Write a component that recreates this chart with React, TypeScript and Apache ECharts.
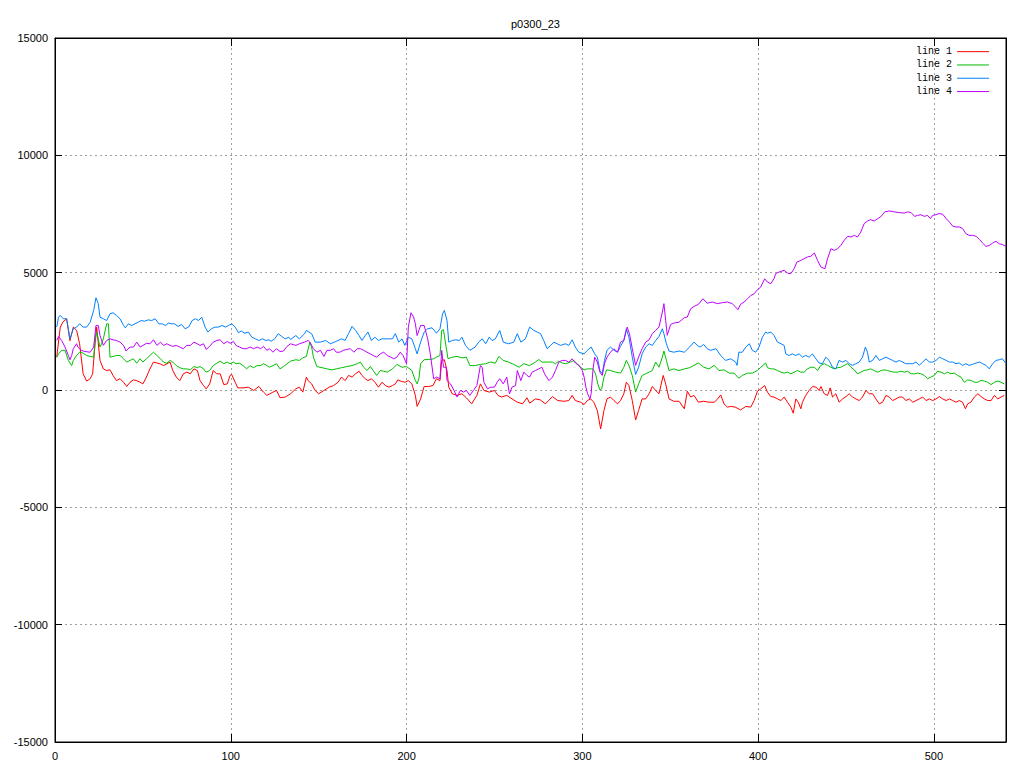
import React, { useEffect, useRef } from "react";
import * as echarts from "echarts";

const chartTitle = "p0300_23";
const seriesNames = ["line 1", "line 2", "line 3", "line 4"];
const seriesColors = ["#ff0000", "#00c000", "#0080ff", "#c000ff"];
const yTicks = [-15000, -10000, -5000, 0, 5000, 10000, 15000];
const xMin = 0;
const xMax = 541;
const xInterval = 100;

const line1Data: number[][] = [
  [1,1400],[3,2680],[4.5,2900],[6.6,3035],[8.5,2100],[10.4,2680],[12.3,2540],[14,1970],[16,690],[18,380],[20,480],[21.4,690],[22.8,1970],[23.7,2680],[25.6,1260],[27.5,900],[29.4,830],[31.3,860],[33,620],[35,400],[37,480],[39,330],[40.8,150],[42.7,330],[44.6,430],[46.5,400],[48.4,330],[50,260],[52,550],[54,900],[56,1190],[58,1150],[60,1110],[61.7,1040],[63.6,1110],[65.5,1190],[67,830],[69,550],[71,400],[73,690],[75,760],[77,690],[79,900],[81,830],[82.5,400],[84.5,190],[86,50],[88,260],[90,830],[92,690],[94,690],[96,230],[98,260],[99.6,620],[100.5,660],[102.5,330],[104,90],[107,90],[110,120],[113,-20],[116,150],[118.6,-90],[120.5,-230],[124,-90],[126,-20],[128,-330],[131,-300],[134,-160],
  [137,50],[139,120],[141,-90],[143,550],[144,400],[146,260],[148,-20],[150,-160],[153,-20],[156,120],[158.5,190],[161,330],[163,550],[165,400],[167,620],[169,550],[171,690],[173,800],[174.6,620],[176.5,480],[178,400],[180,480],[182,330],[184,120],[186,330],[188,190],[190,120],[192,190],[193.6,260],[195,430],[197,370],[199,330],[201,400],[203,260],[205,-230],[206,-700],[208,-380],[210,150],[212.6,150],[215,190],[217,480],[219,400],[220,1260],[221.5,1290],[223,830],[224,120],[226,-160],[228.7,-230],[231.5,-160],[234,-330],[237,-590],[240,-230],[242,260],[244,-20],[247,-90],[250,-20],[252,-230],[254,-300],[257,-230],[260,-380],[263,-520],[266,-590],[268.5,-330],[270,-560],
  [273.3,-380],[276,-420],[279,-590],[283,-280],[286,-450],[289.5,-480],[292.3,-450],[294.2,-230],[296,-450],[299,-520],[301,-620],[302.8,-450],[304.7,-380],[306.5,-520],[308.5,-870],[310.4,-1660],[312.3,-870],[314,-380],[316,-300],[318,-450],[320,-590],[321.7,-450],[323.6,-160],[325,330],[326.5,190],[328.4,-450],[330.3,-1280],[332,-870],[334,-380],[336,-380],[338,-160],[339.8,150],[341.7,-20],[343.6,-160],[346,620],[347.4,260],[349.3,-380],[352,-480],[355,-480],[358,-800],[359.7,-50],[361.6,-300],[363.5,-230],[366,-520],[369,-480],[372,-520],[375,-520],[377,-380],[378.7,-210],[380.6,-590],[382.5,-730],[384.4,-700],[387,-730],[390,-850],[393,-700],[395.8,-730],[397.7,-450],[399.6,-50],[401.5,50],[403.7,190],[405.3,-90],
  [407.2,-280],[409,-300],[411,-380],[413,-450],[414.8,-300],[416.7,-520],[418.6,-730],[420,-990],[421.4,-380],[422.8,-520],[424.3,-800],[425.2,-520],[427.1,-230],[429,-20],[431,150],[433,120],[434.7,-20],[435.7,150],[437.6,-160],[439.5,-230],[441,90],[442.3,-300],[444.2,-160],[446.1,-520],[448,-380],[450,-280],[451.8,-160],[453.7,-300],[455.6,-380],[457.5,-450],[459.4,-300],[461.3,-20],[463.2,-160],[465.1,-160],[467,-380],[468.9,-590],[470.8,-520],[472.7,-230],[474.6,-300],[476.5,-450],[478.4,-380],[480.3,-300],[482.2,-300],[484,-450],[486,-380],[488,-520],[489.8,-450],[491.7,-380],[493.6,-300],[495.5,-450],[497.4,-380],[499.3,-450],[501.2,-380],[503.1,-280],[505,-380],[507,-450],[508.8,-380],[510.7,-450],[512.5,-520],[514.4,-450],[516.3,-520],[517.9,-800],[519.2,-590],[521,-520],[523,-300],[525,-160],[526.8,-280],[528.7,-380],[530.6,-450],[532.5,-450],[534.4,-230],[536.3,-380],[538.2,-300],[540,-230]
];

const line2Data: number[][] = [
  [1,1400],[2,1540],[3.8,1690],[5.7,1690],[7.6,1260],[9.5,1040],[10.4,1260],[12.3,1470],[14,1610],[16,1570],[18,1470],[20,1430],[22,1400],[22.8,2110],[23.7,2470],[24.6,2180],[25.6,1830],[26.5,1970],[27.5,2180],[29.4,2820],[30.4,2820],[31.3,1400],[33,1430],[35,1470],[37,1470],[39,1330],[40.8,1190],[42.7,1260],[44.6,1330],[46.5,1140],[48.4,1330],[50,1190],[52,1330],[54,1470],[56,1610],[58,1470],[60,1330],[61.7,1190],[63.6,1140],[65.5,1260],[67,1190],[69,1040],[71,950],[73,900],[75,900],[77,860],[79,1000],[81,950],[82.5,1000],[84.5,900],[86,760],[88,830],[90,1040],[92,1140],[94,1230],[96,1120],[98,1190],[99.6,1120],[101.5,1190],[103,1120],[105,1140],[107,1040],[109,900],[111,1040],[113,950],[115,1040],[117,1040],[118.6,1120],[120.5,1040],[122,970],[124,1040],[126,1120],[128,900],[130,1000],[132,1120],[134,1230],
  [137,1290],[139,1260],[141,1370],[143,1430],[145,2040],[146,1830],[147,1400],[149,1000],[152,950],[154.7,900],[157.5,860],[160,900],[163,950],[166,1000],[169,1040],[172,1120],[173.7,1190],[175.6,970],[177.5,830],[179.4,1000],[181,830],[183,620],[185,830],[187,800],[189,760],[192,900],[194.5,1090],[197.4,970],[200,1000],[203,830],[205,400],[206,260],[207,480],[208,1120],[210,1290],[212.6,1300],[215.4,1330],[217,1400],[219,1470],[220,2540],[221,2570],[222.5,1830],[223.6,1330],[226,1400],[228.7,1430],[231.5,1370],[234,1400],[236,1040],[239,1040],[242,1090],[245,1120],[247.7,1190],[250.5,1140],[252.5,1430],[255,1260],[258,1190],[261,1090],[264,970],[266.7,1120],[270,1040],
  [273.3,1190],[275.2,1300],[277,1190],[280,1190],[283,1190],[284.7,1120],[286.6,1230],[288.5,1150],[290.4,1120],[293.3,1190],[295.2,1260],[297,1120],[299,970],[301,860],[302.8,900],[304.7,900],[306,900],[307.5,690],[308.8,260],[310,0],[311,50],[312.3,550],[313.8,860],[316,830],[318.9,760],[321.7,720],[323.6,970],[325,1260],[326.5,1050],[328.4,620],[330.3,-90],[332,260],[334,620],[336,690],[338,760],[339.8,830],[341.7,1190],[343.6,970],[345.5,1400],[346.4,1660],[347.8,1260],[349.3,830],[352,900],[355,830],[358,900],[361,950],[363.5,1050],[366,1150],[369,970],[372,900],[375,1050],[377.7,830],[380.6,860],[383.5,720],[386.3,720],[389,500],[391,620],[394,720],[396.7,720],[399.6,830],[401.5,970],[404.3,1150],
  [405.3,950],[407.2,900],[409,900],[411,830],[413,760],[414.8,720],[416.7,760],[418.6,690],[420.5,760],[422.4,830],[424.3,760],[426.2,760],[428,900],[430,970],[432,970],[433.8,830],[435.7,1050],[437.6,1120],[439.5,1050],[441.4,970],[443.3,900],[445.2,950],[447,970],[449,1050],[451,1120],[452.8,970],[454.7,860],[456.5,690],[458.4,760],[460.3,830],[462.2,860],[464,900],[466,830],[468,760],[470,830],[471.7,860],[473.6,830],[475.5,790],[477.4,760],[479.3,760],[481.2,800],[483.1,760],[485,800],[487,690],[489,690],[490.7,720],[492.6,690],[494.5,620],[496.4,480],[498.3,550],[500.2,620],[502,800],[504,760],[506,690],[507.8,760],[509.7,690],[511.6,720],[513.5,620],[515.4,550],[517.3,330],[519.2,430],[521,410],[523,330],[525,330],[526.8,410],[528.7,380],[530.6,330],[532.5,230],[534.4,330],[536.3,380],[538.2,330],[540,260]
];

const line3Data: number[][] = [
  [1,2680],[2,3100],[3,3180],[4.7,3035],[6.6,3035],[7.6,2610],[8.5,2180],[9.5,2400],[10.4,2610],[12.3,2680],[14,2820],[16,2680],[18,2680],[20,2890],[22,3390],[23.3,3930],[24.6,3680],[25.6,3100],[27.5,3035],[29.4,2960],[31.3,3250],[33,3290],[35,3180],[37,3035],[39,2750],[40,2650],[41.7,2820],[43.6,2750],[45.5,2820],[47.4,2890],[49,2960],[51,2930],[53,2990],[55,2960],[57,3035],[59,2820],[61,2820],[63,2750],[64.5,2850],[66.4,2820],[68,2820],[70,2710],[72,2790],[74,2610],[76,2680],[78,2960],[80,3035],[81.6,2960],[83.5,3100],[85.4,2680],[87,2470],[89,2610],[91,2680],[93,2680],[95,2750],[97,2680],[98.7,2750],[100.6,2820],[102.5,2680],[104.4,2440],[106,2510],[108,2420],[110,2470],[112,2250],[114,2180],[116,2110],[118,2180],[120,2110],[121.5,2140],[123,2080],[125,2180],[127,2400],[129,2280],[131,2180],[133,2250],
  [134,2150],[137,2320],[139,2180],[142,2400],[143,2540],[146,2400],[148,2040],[151,2040],[154,2110],[156.6,1970],[159,2040],[161,2110],[163,2180],[165,2110],[167,2400],[169,2710],[171,2540],[173,2320],[174.6,2110],[176.5,2320],[178,2470],[180,2110],[182,2250],[184,2110],[186,2180],[189,2180],[192,2180],[193.6,2400],[195.5,2040],[197.4,2180],[199,1900],[201,2250],[203,2180],[205,1760],[206,1540],[208,2040],[210,2470],[212,2610],[214.5,2650],[217,2420],[219,2610],[220.5,3250],[221.5,3390],[223,2960],[224,2040],[226,2110],[228,2140],[230,2110],[231.5,2250],[233.5,1900],[236,1690],[239,1830],[241,2040],[243,2180],[245,1970],[247,2250],[248.6,2110],[250.5,2180],[253,2540],[255,2040],[258,1970],[261,2040],[263,2400],[265,2040],[267.6,2180],[270,2680],
  [272.4,2540],[274.3,2470],[276.2,2400],[278,2110],[280,1760],[282,1900],[283.8,2040],[285.7,1970],[287.6,1900],[290.4,1970],[292.3,1900],[294.2,2140],[296,1830],[298,1610],[301,1540],[302.8,1690],[305,1830],[307,1540],[308.5,1400],[310,830],[311.3,690],[312.6,1260],[314,1690],[316,1830],[318,1690],[320,1610],[321.7,1860],[323.6,2110],[325,2610],[326.5,2250],[328.4,1400],[330.3,660],[332,970],[334,1540],[336,1830],[338,1970],[339.8,1900],[341.7,2110],[343.6,2280],[345.5,2610],[346.4,2400],[347.8,1970],[349.3,1660],[352,1610],[355,1660],[358,1610],[361,1830],[363.5,2040],[365.4,1900],[367,1830],[369,1940],[371,1760],[373,1690],[376,1760],[378.7,1470],[381.5,1260],[384.4,1330],[387.2,1190],[388,1050],[389,1610],[391,1610],[393,1830],[395,1970],[396.7,1690],[398.6,1610],[400.5,1830],[402.4,2250],[404.3,2470],
  [405.3,2420],[407.2,2470],[409,2330],[411,2040],[413,1970],[414.8,1900],[415.7,1540],[417.6,1470],[419.5,1540],[421.4,1470],[423.3,1540],[425.2,1400],[427.1,1470],[429,1400],[430.9,1540],[432.8,1330],[434.7,1150],[436.6,1120],[438.5,1400],[440.4,1260],[442.3,970],[444.2,900],[446,1260],[448,1190],[450,1260],[451.8,1120],[453.7,1050],[455.6,1120],[457.5,1190],[459.4,1400],[461,1830],[462.2,1610],[463.2,1190],[465.1,1260],[467,1470],[468.9,1260],[470.8,1330],[472.7,1400],[474.6,1330],[476.5,1260],[478.4,1190],[480.3,1260],[482.2,1190],[484,1120],[486,1120],[488,1120],[489.8,1190],[491.7,1050],[493.6,1190],[495.5,1330],[497.4,1190],[499.3,1190],[501.2,1260],[503.1,1400],[505,1330],[507,1260],[508.8,1190],[510.7,1190],[512.5,1120],[514.4,1150],[516.3,1050],[518.2,1120],[520,1050],[522,1090],[524,1150],[526,1190],[527.7,1120],[529.6,1050],[531.5,900],[533.4,1120],[535.3,1260],[537.2,1290],[539,1330],[541,1120]
];

const line4Data: number[][] = [
  [1,2110],[2,2280],[3.8,2110],[5.7,1830],[7.6,1470],[8.5,1290],[9.5,1470],[10.4,1760],[12.3,1970],[13,1830],[15,1690],[17,1640],[20,1610],[22,1830],[23.3,2750],[24.6,2750],[25.6,2320],[27.5,1900],[29.4,2110],[31.3,2180],[33,2140],[35,2110],[37,2040],[39,1900],[40.4,1660],[42.7,1830],[44.6,1830],[46.5,2040],[48.4,1830],[50,1900],[52,1990],[54,1970],[56,2140],[58,1900],[60,2040],[61.7,1900],[63.6,1970],[65.5,1900],[67,1860],[69,1900],[71,1830],[73,1760],[75,1900],[77,1900],[79,2040],[81,1970],[82.5,1900],[84.5,1970],[86,1730],[88,1860],[90,2040],[92,2110],[94,2140],[96,1970],[98,2070],[99.6,1990],[101.5,2070],[103,1900],[105,1830],[107,1760],[109,1760],[111,1830],[113,1760],[115,1830],[117,1760],[118.6,1860],[120.5,1690],[122,1760],[124,1610],[126,1760],[128,1640],[130,1660],[132,1860],[134,1970],
  [137,1900],[139,1970],[142,2040],[144,2110],[145,2040],[147,1760],[149,1610],[151,1690],[153,1430],[154.7,1690],[156.6,1690],[158.5,1760],[160,1610],[162,1610],[164,1690],[166,1730],[168,1760],[170,1610],[172,1760],[173.7,1760],[175.6,1690],[177.5,1610],[179.4,1540],[181,1470],[183,1400],[185,1540],[187,1610],[189,1470],[191,1400],[192.7,1330],[194.5,1400],[196.4,1610],[198,1470],[200,1120],[201,2680],[202.5,3290],[204,3110],[205,2820],[206,2320],[208,2750],[210,2750],[212,2180],[213.5,1540],[215.4,480],[217,550],[219,480],[220,1690],[221,970],[222.5,970],[223,400],[225,260],[227,-20],[228.7,-300],[230.6,-20],[232.5,-90],[234,-20],[236,-230],[238,-20],[240,190],[242,1040],[243,970],[244,330],[246,50],[248,120],[250,120],[251.5,330],[253,480],[255,260],[257,550],[258.5,-160],[260,120],[262,190],[263,830],[265,400],[266.7,760],[268.5,620],[270,550],
  [271.4,760],[273.3,830],[275.2,900],[277,970],[278.5,690],[281,400],[283,550],[284.7,830],[286.6,1190],[288.5,1260],[290.4,1260],[292.3,1190],[294.2,1330],[296,1150],[298,1050],[300,830],[301,550],[302,120],[303,-160],[304.3,-380],[305,-160],[306,830],[307,1400],[308.5,1190],[310,760],[311.3,620],[312.6,1120],[314,1400],[316,1610],[318,1760],[320,1610],[321.7,2040],[323.6,2110],[325.5,2680],[326.8,2400],[328.4,1760],[330.3,1050],[332,1400],[334,1760],[336,2040],[338,2140],[339.8,2400],[341.7,2540],[343.6,2680],[345.5,3320],[346.4,3680],[347.4,2970],[348.3,2330],[350.2,2790],[352,2850],[355,2890],[358,3080],[359.7,3110],[361.6,3460],[363.5,3560],[366,3650],[368.6,3890],[371,3700],[374,3750],[376.8,3680],[379.6,3720],[382.5,3750],[385.3,3680],[387.2,3530],[388.5,3420],[390,3650],[392,3750],[394,3890],[395.8,4030],[397.7,4100],[399.6,4270],[401.5,4390],[403.7,4740],[405.3,4600],[407.2,4530],
  [409,4740],[410,4960],[412,5030],[414.8,5100],[416.7,4980],[418.6,4960],[420.5,5170],[422,5450],[424.3,5520],[426.2,5600],[428,5670],[430,5700],[432,5840],[433.8,5520],[435.7,5240],[438,5170],[439.5,5600],[441.4,6020],[443.3,5950],[445.2,6020],[447,6160],[449,6380],[451,6550],[452.8,6520],[454.7,6590],[456.5,6520],[458.4,6730],[460.3,7090],[462.2,7200],[464,7260],[466,7200],[468,7300],[470,7400],[472,7590],[474.6,7630],[477.4,7590],[480.3,7560],[483.1,7540],[485,7590],[487,7560],[489,7400],[490.7,7440],[492.6,7470],[494.5,7400],[496.4,7440],[498,7300],[499.3,7440],[501.2,7470],[503,7520],[505,7490],[507,7300],[508.8,7160],[510.7,6980],[512.5,6950],[514.4,6950],[516.3,6880],[518.2,6660],[520,6590],[522,6590],[524,6550],[526,6410],[527.7,6260],[529.6,6120],[531.5,6160],[533.4,6260],[535.3,6340],[537.2,6230],[539,6200],[541,6120]
];

const allData = [line1Data, line2Data, line3Data, line4Data];

export default function App() {
  const ref = useRef<HTMLDivElement>(null);

  useEffect(() => {
    document.body.style.margin = "0";
    if (!ref.current) return;
    const chart = echarts.init(ref.current, undefined, { renderer: "svg" });
    const labelFont = {
      fontFamily: "Liberation Sans",
      fontSize: 11,
      color: "#000",
    };
    const gridLine = {
      show: true,
      lineStyle: { color: "#a0a0a0", type: [2, 3] as any, width: 1 },
    };
    const axisLine = { show: true, onZero: false, lineStyle: { color: "#000" } };
    const tick = { show: true, inside: true, length: 7, lineStyle: { color: "#000" } };
    chart.setOption({
      animation: false,
      backgroundColor: "#fff",
      title: {
        text: chartTitle,
        left: 506,
        top: 13,
        textStyle: { ...labelFont, fontWeight: "normal" },
      },
      legend: {
        data: seriesNames,
        orient: "vertical",
        right: 30,
        top: 40,
        align: "right",
        icon: "rect",
        itemWidth: 32,
        itemHeight: 1,
        itemGap: 0,
        selectedMode: false,
        textStyle: {
          fontFamily: "Liberation Mono",
          fontSize: 10,
          color: "#000",
          lineHeight: 13.3,
          height: 13.3,
        },
      },
      grid: {
        left: 55,
        right: 18,
        top: 38,
        bottom: 26,
        show: true,
        borderColor: "#000",
        borderWidth: 1,
        backgroundColor: "transparent",
      },
      xAxis: [
        {
          type: "value",
          min: xMin,
          max: xMax,
          interval: xInterval,
          axisLine,
          axisTick: { ...tick, length: 8 },
          axisLabel: { ...labelFont, margin: 8, showMaxLabel: false },
          splitLine: gridLine,
        },
        {
          type: "value",
          position: "top",
          min: xMin,
          max: xMax,
          interval: xInterval,
          axisLine,
          axisTick: { ...tick, length: 8 },
          axisLabel: { show: false },
          splitLine: { show: false },
        },
      ],
      yAxis: [
        {
          type: "value",
          min: yTicks[0],
          max: yTicks[yTicks.length - 1],
          interval: 5000,
          axisLine,
          axisTick: tick,
          axisLabel: { ...labelFont, margin: 7, formatter: (v: number) => String(v) },
          splitLine: gridLine,
        },
        {
          type: "value",
          position: "right",
          min: yTicks[0],
          max: yTicks[yTicks.length - 1],
          interval: 5000,
          axisLine,
          axisTick: tick,
          axisLabel: { show: false },
          splitLine: { show: false },
        },
      ],
      series: seriesNames.map((name, i) => ({
        name,
        type: "line",
        xAxisIndex: 0,
        yAxisIndex: 0,
        data: allData[i],
        showSymbol: false,
        symbol: "none",
        color: seriesColors[i],
        lineStyle: { width: 1, color: seriesColors[i] },
      })),
    });
    return () => chart.dispose();
  }, []);

  return (
    <div
      ref={ref}
      style={{ position: "fixed", left: 0, top: 0, width: 1024, height: 768, background: "#fff" }}
    />
  );
}
